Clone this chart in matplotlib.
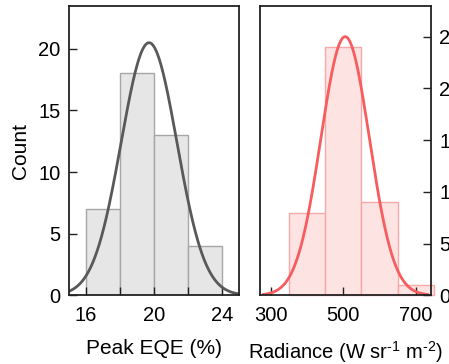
import numpy as np
import matplotlib
matplotlib.use("Agg")
import matplotlib.pyplot as plt

plt.rcParams['font.family'] = ['Liberation Sans', 'DejaVu Sans']
plt.rcParams['mathtext.fontset'] = 'custom'
plt.rcParams['mathtext.rm'] = 'Liberation Sans'
plt.rcParams['mathtext.it'] = 'Liberation Sans:italic'
plt.rcParams['mathtext.default'] = 'regular'

# peak EQE histogram
eqe_edges = [16, 18, 20, 22, 24]
eqe_counts = [7, 18, 13, 4]
eqe_mu, eqe_sigma = 19.7, 1.635

# radiance histogram
rad_edges = [350, 450, 550, 650, 750]
rad_counts = [8, 24, 9, 1]
rad_mu, rad_sigma = 505, 67


def gauss(x, n, bw, mu, sig):
    return n * bw / (np.sqrt(2 * np.pi) * sig) * np.exp(-(x - mu) ** 2 / (2 * sig ** 2))


fig = plt.figure(figsize=(4.49, 3.64), dpi=100)
ax1 = fig.add_axes([0.1537, 0.1887, 0.3793, 0.7956])
ax2 = fig.add_axes([0.5791, 0.1887, 0.3808, 0.7956])

# left panel
w = np.diff(eqe_edges)
ax1.bar(eqe_edges[:-1], eqe_counts, width=w, align='edge',
        color='#e6e6e6', edgecolor='#a6a6a6', linewidth=1)
xs = np.linspace(15, 25, 400)
ax1.plot(xs, gauss(xs, sum(eqe_counts), 2, eqe_mu, eqe_sigma),
         color='#595959', lw=2)
ax1.set_xlim(15, 25)
ax1.set_ylim(0, 23.5)
ax1.set_xticks([16, 20, 24])
ax1.set_xticks([18, 22], minor=True)
ax1.set_yticks([0, 5, 10, 15, 20])
ax1.set_ylabel('Count', fontsize=15, labelpad=6)
ax1.set_xlabel('Peak EQE (%)', fontsize=15, labelpad=10)

# right panel
w = np.diff(rad_edges)
ax2.bar(rad_edges[:-1], rad_counts, width=w, align='edge',
        color='#fde3e1', edgecolor='#f7a8a8', linewidth=1, clip_on=False)
xs = np.linspace(280, 732, 400)
ax2.plot(xs, gauss(xs, sum(rad_counts), 100, rad_mu, rad_sigma),
         color='#f75c5f', lw=2)
ax2.set_xlim(270, 742)
ax2.set_ylim(0, 28)
ax2.set_xticks([300, 500, 700])
ax2.set_yticks([0, 5, 10, 15, 20, 25])
ax2.yaxis.tick_right()
ax2.set_xlabel(r'Radiance (W sr$^{\text{-1}}$ m$^{\text{-2}}$)', fontsize=14.5, labelpad=10)

for ax in (ax1, ax2):
    for s in ax.spines.values():
        s.set_linewidth(1.3)
        s.set_color('#222222')
    ax.tick_params(which='both', direction='in', length=5.5, width=1,
                   labelsize=14.5, color='#222222')
    ax.tick_params(axis='x', which='both', pad=8)
    ax.tick_params(axis='y', which='both', pad=6)
ax2.tick_params(axis='y', right=True, left=False, labelright=True, labelleft=False)

fig.savefig('out.png', dpi=100)
